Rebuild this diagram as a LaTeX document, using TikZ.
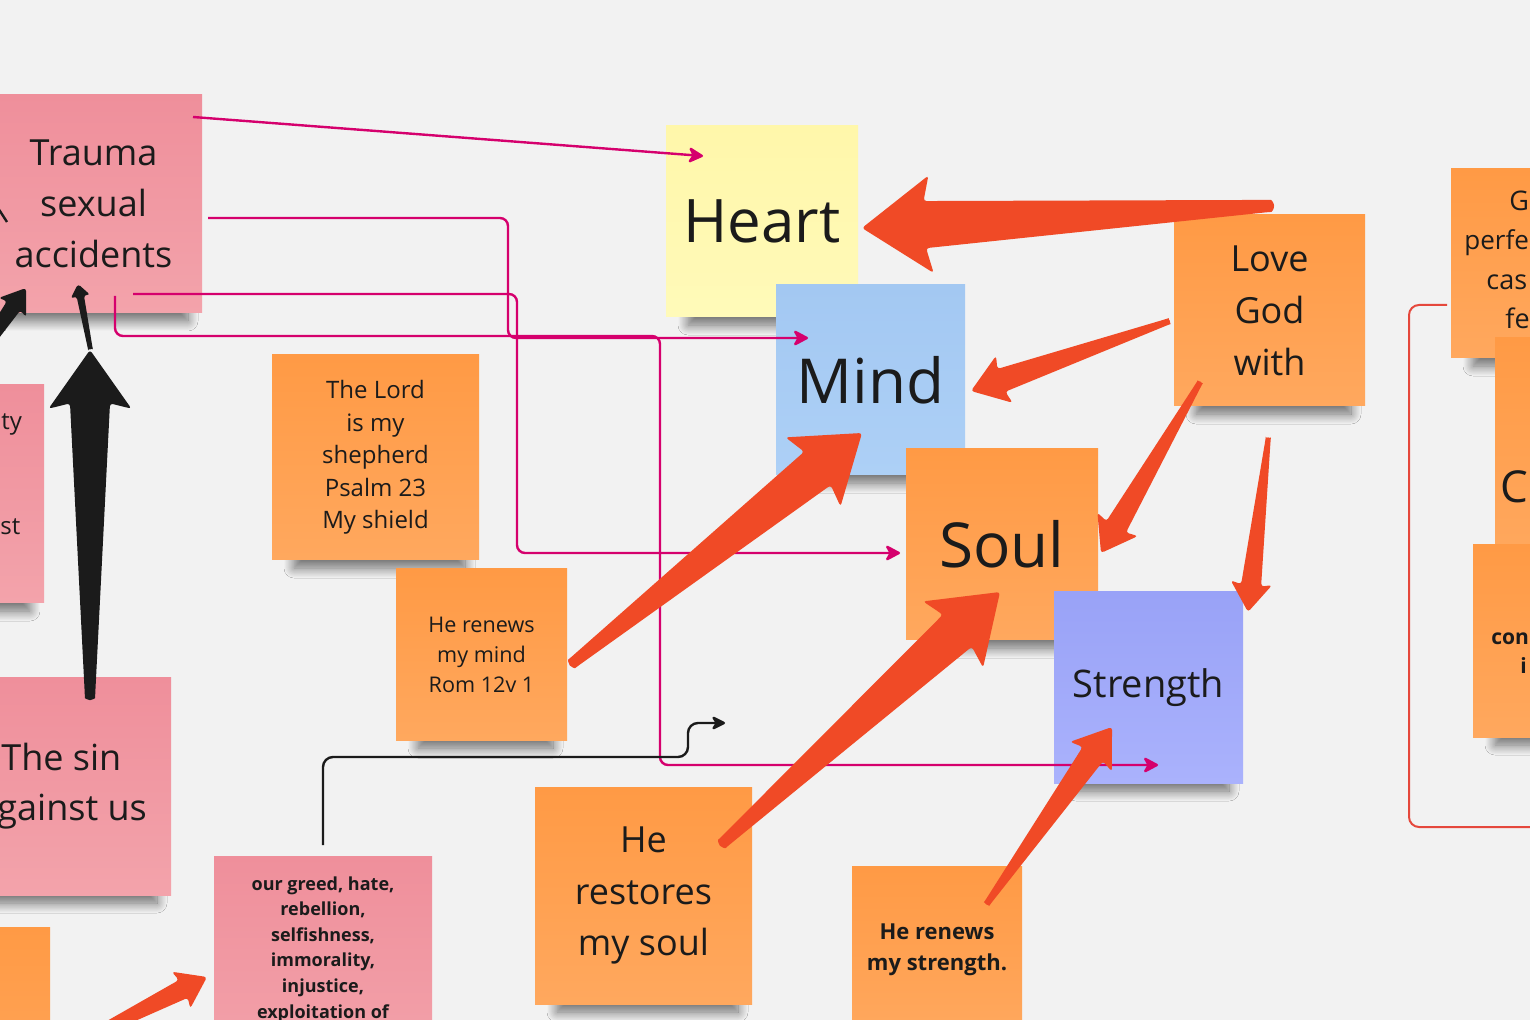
\documentclass[tikz,border=0pt]{standalone}
\usepackage{fontspec}
\setmainfont{Open Sans}
\usetikzlibrary{arrows.meta,shadows.blur,calc}

\definecolor{bg}{HTML}{F2F2F2}
\definecolor{pinkA}{HTML}{EF8F9B}
\definecolor{pinkB}{HTML}{F3A3AB}
\definecolor{orA}{HTML}{FF9A45}
\definecolor{orB}{HTML}{FFA85E}
\definecolor{yelA}{HTML}{FFF7AA}
\definecolor{yelB}{HTML}{FFFAB9}
\definecolor{bluA}{HTML}{A3C8F2}
\definecolor{bluB}{HTML}{ADD0F6}
\definecolor{vioA}{HTML}{99A2F7}
\definecolor{vioB}{HTML}{AAB2FC}
\definecolor{mag}{HTML}{D5006D}
\definecolor{redar}{HTML}{F04A26}
\definecolor{ink}{HTML}{1B1B1B}
\definecolor{brk}{HTML}{E5483C}

\tikzset{
  pinknote/.style={top color=pinkA,bottom color=pinkB},
  orangenote/.style={top color=orA,bottom color=orB},
  yellownote/.style={top color=yelA,bottom color=yelB},
  bluenote/.style={top color=bluA,bottom color=bluB},
  violetnote/.style={top color=vioA,bottom color=vioB},
  magline/.style={draw=mag,line width=1.2pt,rounded corners=4pt},
  magarrow/.style={magline,-{Stealth[length=8.5pt,width=9pt,inset=2.5pt,round]}},
  inkline/.style={draw=ink,line width=1.2pt,rounded corners=5pt},
  inkarrow/.style={inkline,-{Stealth[length=8pt,width=8pt,inset=2.5pt,round]}},
  frag/.style={text=ink,inner sep=0pt,anchor=base west},
  txt/.style={text=ink,align=center,inner sep=0pt},
}

% name, x1, y1, x2, y2, fill style, font, text
\newcommand\sticky[8]{%
  \path[blur shadow={shadow xshift=0pt,shadow yshift=-4pt,shadow blur radius=5pt,shadow opacity=55,shadow blur steps=14}]
     (#2+22,#5-20) rectangle (#4-14,#5);
  \node[#6,anchor=north west,inner sep=0pt,outer sep=0pt,
        minimum width={((#4)-(#2))*0.5pt},minimum height={((#5)-(#3))*0.5pt},
        text=ink,align=center,font={#7}] (#1) at (#2,#3) {#8};}

% style, tail, tip
\newcommand\fatarrow[3]{%
  \path (#2); \pgfgetlastxy{\fax}{\fay}%
  \path (#3); \pgfgetlastxy{\fbx}{\fby}%
  \pgfmathsetmacro\faA{atan2(\fby-\fay,\fbx-\fax)}%
  \pgfmathsetmacro\faL{veclen(\fbx-\fax,\fby-\fay)}%
  \pgfmathsetmacro\faHL{max(6.5,0.17*\faL)}%
  \pgfmathsetmacro\faNL{0.91*\faHL}%
  \pgfmathsetmacro\faHW{max(5,0.12*\faL)}%
  \pgfmathsetmacro\faNW{max(1.8,0.058*\faL)}%
  \pgfmathsetmacro\faTW{max(1.2,0.015*\faL)}%
  \begin{scope}[shift={(#3)},rotate=\faA,x=1pt,y=1pt]
    \fill[#1,rounded corners=1.5pt] (0,0) -- (-\faHL,\faHW) -- (-\faNL,\faNW) -- (-\faL,\faTW)
      arc[start angle=90,end angle=270,radius=\faTW] -- (-\faNL,-\faNW) -- (-\faHL,-\faHW) -- cycle;
  \end{scope}}

\begin{document}
\begin{tikzpicture}[x=0.5pt,y=-0.5pt]
\useasboundingbox (0,0) rectangle (1530,1020);
\clip (0,0) rectangle (1530,1020);
\fill[bg] (0,0) rectangle (1530,1020);

% ---------- sticky notes ----------
\sticky{tyNote}{-180}{385}{44}{603}{pinknote}{}{}
\sticky{trauma}{-15}{95}{202}{313}{pinknote}{\fontsize{18}{25.5}\selectfont}{Trauma\\sexual\\accidents}
\sticky{sinNote}{-47}{677}{171}{895}{pinknote}{}{}
\sticky{blOrange}{-170}{927}{50}{1140}{orangenote}{}{}
\sticky{greed}{214}{856}{432}{1074}{pinknote}{}{}
\sticky{lord}{272}{355}{479}{560}{orangenote}{\fontsize{12}{16.3}\selectfont}{The Lord\\is my\\shepherd\\Psalm 23\\My shield}
\sticky{renewsMind}{396}{569}{567}{740}{orangenote}{\fontsize{10.8}{15}\selectfont}{He renews\\my mind\\Rom 12v 1}
\sticky{restores}{535}{787}{752}{1004}{orangenote}{\fontsize{18}{25.8}\selectfont}{He\\restores\\my soul}
\sticky{renewsStr}{852}{866}{1022}{1034}{orangenote}{\bfseries\fontsize{11}{15.5}\selectfont}{He renews\\my strength.}
\sticky{heart}{666}{126}{858}{317}{yellownote}{\fontsize{30}{36}\selectfont}{Heart}
\sticky{mind}{776}{285}{965}{475}{bluenote}{\fontsize{31}{37}\selectfont}{Mind}
\sticky{soul}{906}{449}{1098}{640}{orangenote}{\fontsize{31}{37}\selectfont}{Soul}
\sticky{strength}{1054}{592}{1243}{783}{violetnote}{\fontsize{19}{23}\selectfont}{Strength}
\sticky{love}{1174}{215}{1365}{406}{orangenote}{\fontsize{18}{26}\selectfont}{Love\\God\\with}
\sticky{gNote}{1451}{169}{1660}{358}{orangenote}{}{}
\sticky{cNote}{1495}{338}{1700}{557}{orangenote}{}{}
\sticky{conNote}{1473}{545}{1690}{737}{orangenote}{}{}

% ---------- texts on partly hidden notes ----------
\node[frag,font=\fontsize{12}{14}\selectfont] (tyT) at (1,430) {ty};
\node[frag,font=\fontsize{12}{14}\selectfont] (stT) at (0,535) {st};
\node[frag,font=\fontsize{18}{22}\selectfont] (sin1) at (1,770) {The sin};
\node[frag,font=\fontsize{18}{22}\selectfont] (sin2) at (-3,820) {gainst us};
\node[txt,anchor=north,font=\bfseries\fontsize{9}{12.8}\selectfont] (greedT) at (323,876)
  {our greed, hate,\\rebellion,\\selfishness,\\immorality,\\injustice,\\exploitation of};
\node[frag,font=\fontsize{13.5}{16}\selectfont] (gT1) at (1509,211) {G};
\node[frag,font=\fontsize{13}{16}\selectfont] (gT2) at (1464,250) {perfe};
\node[frag,font=\fontsize{13.5}{16}\selectfont] (gT3) at (1486,290) {cas};
\node[frag,font=\fontsize{13.5}{16}\selectfont] (gT4) at (1505,329) {fe};
\node[frag,font=\fontsize{22}{26}\selectfont] (cT) at (1500,503) {C};
\node[frag,font=\bfseries\fontsize{10.5}{14}\selectfont] (conT1) at (1491,645) {con};
\node[frag,font=\bfseries\fontsize{10.5}{14}\selectfont] (conT2) at (1520,674) {i};

% ---------- coordinates ----------
\coordinate (m1s) at (193,117);  \coordinate (m1e) at (703,156);
\coordinate (m2s) at (208,218);  \coordinate (m2e) at (808,338);
\coordinate (m3s) at (133,294);  \coordinate (m3e) at (900,553);
\coordinate (m4s) at (115,296);  \coordinate (m4e) at (1158,765);
\coordinate (k1s) at (323,845);  \coordinate (k1e) at (725,723);
\coordinate (km1) at (-2,208);   \coordinate (km2) at (7,222);
\coordinate (brkS) at (1447,305); \coordinate (brkE) at (1545,827);

\coordinate (bbT) at (90,695);   \coordinate (bbH) at (90,350);
\coordinate (sbT) at (90,347);   \coordinate (sbH) at (78,284);
\coordinate (lbT) at (-54,403);  \coordinate (lbH) at (26,288);

\coordinate (heT) at (1268,206); \coordinate (heH) at (862,228);
\coordinate (lmT) at (1167,322); \coordinate (lmH) at (971,391);
\coordinate (lsT) at (1199,384); \coordinate (lsH) at (1101,553);
\coordinate (ltT) at (1268,440); \coordinate (ltH) at (1248,612);
\coordinate (rmT) at (574,662);  \coordinate (rmH) at (862,433);
\coordinate (rsT) at (724,842);  \coordinate (rsH) at (1000,592);
\coordinate (rtT) at (988,902);  \coordinate (rtH) at (1112,727);
\coordinate (blT) at (54,1054);  \coordinate (blH) at (207,977);

% ---------- black fat arrows ----------
\fatarrow{ink}{lbT}{lbH}
\fatarrow{ink}{bbT}{bbH}
\fatarrow{ink}{sbT}{sbH}
\draw[ink,line width=1.2pt] (km1) -- (km2);

% ---------- connectors ----------
\draw[brk,line width=1pt,rounded corners=5pt] (brkS) -- ++(-38,0) |- (brkE);
\draw[magarrow,rounded corners=0pt] (m1s) -- (m1e);
\draw[magarrow] (m2s) -- (508,218) |- (m2e);
\draw[magarrow] (m3s) -- (517,294) |- (m3e);
\draw[magarrow] (m4s) |- (660,336) |- (m4e);
\draw[inkarrow] (k1s) |- (688,757) |- (k1e);

% ---------- red fat arrows ----------
\fatarrow{redar}{heT}{heH}
\fatarrow{redar}{lmT}{lmH}
\fatarrow{redar}{lsT}{lsH}
\fatarrow{redar}{ltT}{ltH}
\fatarrow{redar}{rmT}{rmH}
\fatarrow{redar}{rsT}{rsH}
\fatarrow{redar}{rtT}{rtH}
\fatarrow{redar}{blT}{blH}
\end{tikzpicture}
\end{document}
